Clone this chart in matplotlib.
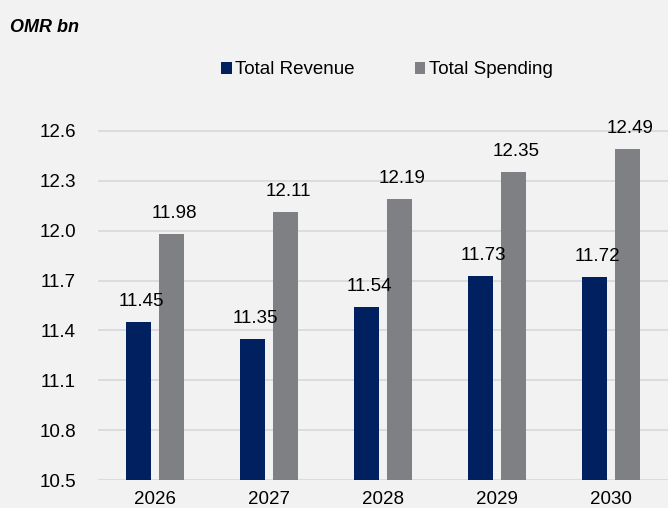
import matplotlib
matplotlib.use("Agg")
import matplotlib.pyplot as plt
from matplotlib.patches import Patch
import numpy as np

years = ["2026", "2027", "2028", "2029", "2030"]
revenue = [11.45, 11.35, 11.54, 11.73, 11.72]
spending = [11.98, 12.11, 12.19, 12.35, 12.49]
yticks = [10.5, 10.8, 11.1, 11.4, 11.7, 12.0, 12.3, 12.6]

rev_color = "#002060"
spend_color = "#7F8083"
bg = "#F2F2F2"
grid_color = "#DADADA"

plt.rcParams['font.family'] = ['Liberation Sans', 'DejaVu Sans']
FS = 13.5

fig = plt.figure(figsize=(6.68, 5.08), dpi=100, facecolor=bg)
ax = fig.add_axes([98/668, 28/508, 570/668, (480-81)/508])
ax.set_facecolor(bg)

x = np.arange(len(years))
w = 0.222
off = 0.144
ax.bar(x - off, [v - 10.5 for v in revenue], w, bottom=10.5, color=rev_color, zorder=3)
ax.bar(x + off, [v - 10.5 for v in spending], w, bottom=10.5, color=spend_color, zorder=3)

for xi, v in zip(x - off, revenue):
    ax.annotate(f"{v:.2f}", (xi, v), xytext=(2, 11.5), textcoords="offset points",
                ha="center", va="baseline", fontsize=FS, color="black")
for xi, v in zip(x + off, spending):
    ax.annotate(f"{v:.2f}", (xi, v), xytext=(2, 11.5), textcoords="offset points",
                ha="center", va="baseline", fontsize=FS, color="black")

ax.set_xlim(-0.5, len(years) - 0.5)
ax.set_ylim(10.5, 12.9)
ax.set_yticks(yticks)
ax.set_yticklabels([f"{t:.1f}" for t in yticks], fontsize=FS)
ax.set_xticks(x)
ax.set_xticklabels(years, fontsize=FS)
ax.tick_params(axis="y", length=0, pad=15.8)
ax.tick_params(axis="x", length=0, pad=8)
for s in ax.spines.values():
    s.set_visible(False)
ax.grid(axis="y", color=grid_color, linewidth=1.3, zorder=0)
ax.set_axisbelow(True)

handles = [Patch(facecolor=rev_color, label="Total Revenue"),
           Patch(facecolor=spend_color, label="Total Spending")]
fig.legend(handles=handles, loc="center", bbox_to_anchor=(387/668, 1 - 70/508),
           ncol=2, frameon=False, fontsize=FS, handlelength=0.55, handleheight=0.55,
           handletextpad=0.2, columnspacing=3.2)

fig.text(10/668, 1 - 27/508, "OMR bn", fontsize=13, fontweight="bold", fontstyle="italic",
         ha="left", va="center")

fig.savefig("out.png", dpi=100, facecolor=bg)
